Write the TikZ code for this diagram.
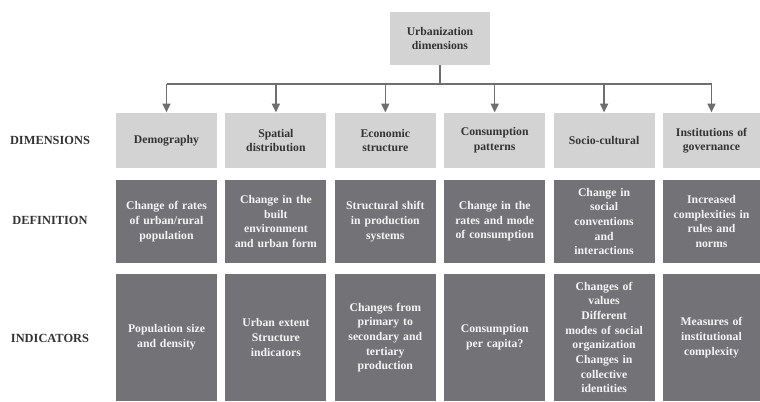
\documentclass[tikz,border=0pt]{standalone}
\usepackage{fontspec}
\setmainfont{Liberation Serif}
\usetikzlibrary{arrows.meta}
\definecolor{lightbox}{HTML}{D3D3D3}
\definecolor{darkbox}{HTML}{737377}
\definecolor{linec}{HTML}{6E6E6E}
\definecolor{txtdark}{HTML}{333333}
\definecolor{txtlight}{HTML}{F4F4F4}
\begin{document}
\begin{tikzpicture}[x=0.75pt,y=-0.75pt,
  base/.style={inner sep=0pt, outer sep=0pt, align=center,
    font=\fontsize{8.8}{11}\selectfont\bfseries, text width=72pt},
  topbox/.style={base, fill=lightbox, text=txtdark, minimum width=75pt, minimum height=39.75pt},
  dimbox/.style={base, fill=lightbox, text=txtdark, minimum width=75.75pt, minimum height=41.25pt},
  defbox/.style={base, fill=darkbox, text=txtlight, minimum width=75.75pt, minimum height=62.25pt},
  indbox/.style={base, fill=darkbox, text=txtlight, minimum width=75.75pt, minimum height=95.25pt},
  lastcol/.style={minimum width=72.75pt},
  rowlabel/.style={inner sep=0pt, font=\fontsize{9.3}{11}\selectfont\bfseries, text=txtdark},
  conn/.style={draw=linec, line width=1.1pt},
  arr/.style={conn, -{Triangle[width=6pt,length=6.5pt]}, shorten >=0.5pt}
]
\useasboundingbox (0,0) rectangle (760,401);

% top
\node[topbox] (top) at (440,38.5) {Urbanization\\dimensions};

% row labels
\node[rowlabel] (ldim) at (50,140.5) {DIMENSIONS};
\node[rowlabel] (ldef) at (50,220.5) {DEFINITION};
\node[rowlabel] (lind) at (50,338) {INDICATORS};

% dimensions
\node[dimbox] (d1) at (166.5,140.5) {Demography};
\node[dimbox] (d2) at (275.9,140.5) {Spatial\\distribution};
\node[dimbox] (d3) at (385.3,140.5) {Economic\\structure};
\node[dimbox] (d4) at (494.7,140.5) {Consumption\\patterns};
\node[dimbox] (d5) at (604.1,140.5) {Socio-cultural};
\node[dimbox,lastcol] (d6) at (711.5,140.5) {Institutions of\\governance};

% definitions
\node[defbox] (f1) at (166.5,221.5) {Change of rates\\of urban/rural\\population};
\node[defbox] (f2) at (275.9,221.5) {Change in the\\built\\environment\\and urban form};
\node[defbox] (f3) at (385.3,221.5) {Structural shift\\in production\\systems};
\node[defbox] (f4) at (494.7,221.5) {Change in the\\rates and mode\\of consumption};
\node[defbox] (f5) at (604.1,221.5) {Change in\\social\\conventions\\and\\interactions};
\node[defbox,lastcol] (f6) at (711.5,221.5) {Increased\\complexities in\\rules and\\norms};

% indicators
\node[indbox] (i1) at (166.5,337.5) {Population size\\and density};
\node[indbox] (i2) at (275.9,337.5) {Urban extent\\Structure\\indicators};
\node[indbox] (i3) at (385.3,337.5) {Changes from\\primary to\\secondary and\\tertiary\\production};
\node[indbox] (i4) at (494.7,337.5) {Consumption\\per capita?};
\node[indbox] (i5) at (604.1,337.5) {Changes of\\values\\Different\\modes of social\\organization\\Changes in\\collective\\identities};
\node[indbox,lastcol] (i6) at (711.5,337.5) {Measures of\\institutional\\complexity};

% connectors
\coordinate (hub) at (440,84);
\draw[conn] (top.south) -- (hub);
\draw[conn] (d1.north |- hub) -- (d6.north |- hub);
\foreach \n in {d1,d2,d3,d4,d5,d6}
  \draw[arr] (\n.north |- hub) -- (\n.north);
\end{tikzpicture}
\end{document}
